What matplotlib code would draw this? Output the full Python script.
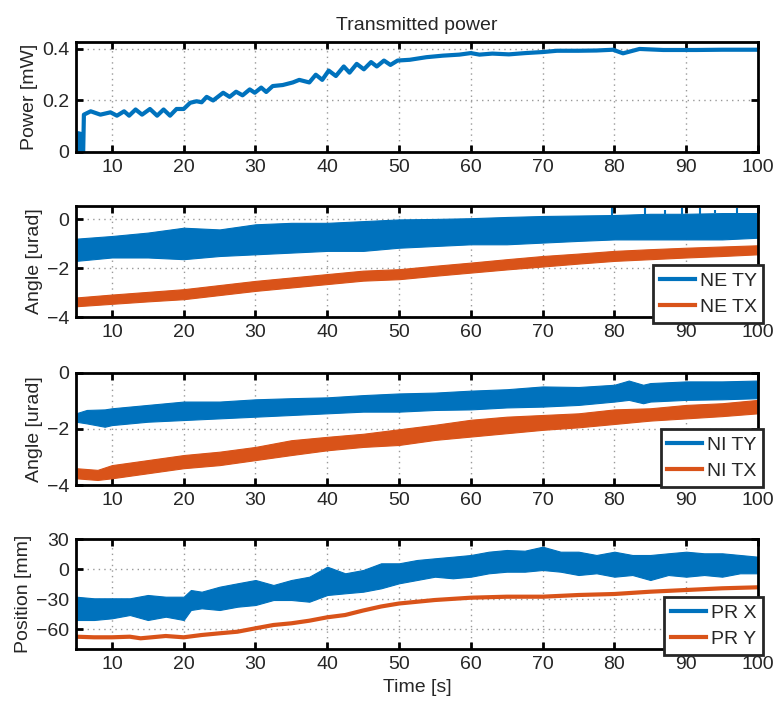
import numpy as np
import matplotlib.pyplot as plt

plt.rcParams['font.family'] = ['Liberation Sans', 'DejaVu Sans']

BLUE = '#0072BD'
ORANGE = '#D95319'
TXT = '#262626'
FS = 14

# transmitted power trace [mW]
power_t = [5.0, 5.2, 5.3, 5.7, 5.8, 6.0, 6.1, 7.05, 8.4, 9.8, 10.7, 11.7, 12.4, 13.3, 14.2,
           15.3, 16.3, 17.2, 18.1, 19.0, 20.0, 20.9, 21.8, 22.5, 23.2, 24.1, 25.5, 26.4,
           27.3, 28.2, 29.2, 29.9, 30.8, 31.5, 32.4, 33.8, 35.2, 36.1, 37.5, 38.4, 39.3,
           40.2, 41.2, 42.3, 43.1, 44.1, 45.1, 46.1, 46.9, 47.9, 48.8, 49.8, 51.5, 53.8,
           56.1, 58.4, 60.0, 61.2, 63.0, 65.3, 67.6, 70.0, 72.0, 75.0, 77.5, 79.8, 81.2,
           83.5, 86.8, 91.4, 95.0, 100.0]
power_mw = [0.0, 0.0, 0.073, 0.07, 0.0, 0.0, 0.145, 0.158, 0.145, 0.154, 0.141, 0.158, 0.141,
            0.165, 0.145, 0.167, 0.141, 0.165, 0.141, 0.167, 0.167, 0.191, 0.197, 0.193, 0.214,
            0.2, 0.23, 0.214, 0.234, 0.22, 0.243, 0.23, 0.25, 0.233, 0.256, 0.26, 0.27, 0.28,
            0.27, 0.3, 0.28, 0.316, 0.295, 0.332, 0.308, 0.342, 0.321, 0.349, 0.332, 0.355,
            0.338, 0.355, 0.358, 0.368, 0.374, 0.378, 0.384, 0.378, 0.382, 0.379, 0.384,
            0.388, 0.393, 0.393, 0.394, 0.397, 0.383, 0.4, 0.396, 0.396, 0.397, 0.397]

# NE angles, band envelopes [urad]
ne_t = [5, 10, 15, 20, 25, 30, 35, 40, 45, 50, 55, 60, 65, 70, 75, 80, 85, 90, 95, 100]
ne_ty_hi = [-0.79, -0.68, -0.54, -0.34, -0.41, -0.2, -0.14, -0.14, -0.07, 0.0, 0.02, 0.05,
            0.1, 0.14, 0.16, 0.18, 0.23, 0.23, 0.26, 0.26]
ne_ty_lo = [-1.7, -1.56, -1.56, -1.63, -1.5, -1.43, -1.36, -1.29, -1.29, -1.16, -1.09, -1.02,
            -1.02, -0.95, -0.88, -0.82, -0.82, -0.82, -0.82, -0.75]
ne_tx_hi = [-3.2, -3.08, -2.97, -2.86, -2.69, -2.52, -2.38, -2.24, -2.1, -2.04, -1.9, -1.77,
            -1.63, -1.5, -1.4, -1.29, -1.22, -1.16, -1.11, -1.06]
ne_tx_lo = [-3.56, -3.46, -3.36, -3.27, -3.1, -2.93, -2.79, -2.65, -2.51, -2.45, -2.31, -2.18,
            -2.05, -1.93, -1.81, -1.7, -1.63, -1.56, -1.5, -1.43]
ne_spike_t = [79.6, 84.3, 87.1, 89.4, 91.9, 94.0, 97.1]
ne_spike_top = [0.51, 0.47, 0.4, 0.47, 0.47, 0.38, 0.47]

# NI angles, band envelopes [urad]
ni_t = [5, 6.5, 9, 10, 15, 20, 25, 30, 35, 40, 45, 50, 55, 60, 65, 70, 75, 80, 82, 84, 85,
        90, 95, 100]
ni_ty_hi = [-1.44, -1.32, -1.3, -1.26, -1.14, -1.02, -1.02, -0.94, -0.9, -0.87, -0.79, -0.73,
            -0.7, -0.63, -0.58, -0.48, -0.5, -0.42, -0.27, -0.42, -0.36, -0.3, -0.3, -0.27]
ni_ty_lo = [-1.74, -1.8, -1.92, -1.86, -1.74, -1.68, -1.62, -1.56, -1.5, -1.44, -1.38, -1.38,
            -1.32, -1.3, -1.23, -1.2, -1.14, -1.02, -0.96, -1.08, -1.02, -0.96, -0.94, -0.9]
ni_tx_t = [5, 8, 10, 15, 20, 25, 30, 35, 40, 45, 50, 55, 60, 65, 70, 75, 80, 85, 90, 95, 100]
ni_tx_hi = [-3.4, -3.46, -3.29, -3.11, -2.93, -2.81, -2.64, -2.4, -2.28, -2.17, -2.01, -1.85,
            -1.67, -1.56, -1.5, -1.44, -1.3, -1.26, -1.14, -1.08, -0.96]
ni_tx_lo = [-3.76, -3.82, -3.76, -3.58, -3.4, -3.29, -3.11, -2.93, -2.76, -2.64, -2.57, -2.39,
            -2.27, -2.15, -2.03, -1.94, -1.82, -1.7, -1.62, -1.54, -1.44]

# PR positions [mm]
pr_t = [5, 7.5, 10, 12.5, 15, 17.5, 20, 21, 22.5, 25, 27.5, 30, 32.5, 35, 37.5, 40, 42.5, 45,
        47.5, 50, 52.5, 55, 57.5, 60, 62.5, 65, 67.5, 70, 72.5, 75, 77.5, 80, 82.5, 85, 87.5,
        90, 92.5, 95, 97.5, 100]
pr_x_hi = [-27.7, -29.3, -29.3, -29.3, -26, -27.7, -27.7, -21, -22.7, -17.7, -14.3, -11, -16,
           -11, -7.7, 2.3, -4.3, -1, 5.7, 5.7, 9, 10.7, 12.3, 14, 17.3, 19, 18.3, 22.3, 17.3,
           17.3, 14, 17.3, 14, 14, 15.7, 17.3, 15.7, 15.7, 14, 12.3]
pr_x_lo = [-51, -51, -49.3, -46, -51, -47.7, -51, -41, -39.3, -41, -37.7, -36, -31, -31,
           -32.7, -26, -24.3, -22.7, -19.3, -14.3, -11, -7.7, -9.3, -7.7, -4.3, -2.7, -2.7,
           -1, -2.7, -6, -4.3, -7.7, -6, -11, -6, -7.7, -6, -7.7, -4.3, -4.3]
pr_y_t = [5, 7.5, 10, 12.5, 14, 17.5, 20, 22.5, 25, 27.5, 30, 32.5, 35, 37.5, 40, 42.5, 45,
          47.5, 50, 55, 60, 65, 70, 75, 80, 85, 90, 95, 100]
pr_y = [-67.7, -68.3, -68.3, -67.7, -69.3, -67, -68.3, -66, -64.3, -62.7, -59.3, -56, -54.3,
        -51.7, -48.3, -46, -41.5, -37.5, -34.5, -31, -28.7, -27.7, -27.7, -26, -25, -22.7,
        -21, -19.3, -18.3]

fig = plt.figure(figsize=(7.76, 7.02), dpi=100)
left, width = 76 / 776, 682 / 776
boxes = [(152, 110), (317, 111), (485, 112), (649, 110)]
axes = [fig.add_axes([left, 1 - b / 702, width, h / 702]) for b, h in boxes]


def style(ax, ylim, yticks, ylabels, ylabel):
    ax.set_xlim(5, 100)
    ax.set_ylim(*ylim)
    ax.set_xticks(np.arange(10, 101, 10))
    ax.set_yticks(yticks)
    ax.set_yticklabels(ylabels)
    ax.grid(True, color='#999999', linestyle=(0, (1, 3)), linewidth=1)
    ax.tick_params(direction='in', length=5, width=2, top=True, right=True,
                   labelsize=FS, labelcolor=TXT, pad=5)
    for s in ax.spines.values():
        s.set_linewidth(2)
    ax.set_ylabel(ylabel, fontsize=FS, color=TXT, labelpad=3)
    ax.set_axisbelow(True)


def band(ax, t, lo, hi, color, label):
    ax.fill_between(t, lo, hi, color=color, linewidth=0.8, edgecolor=color)
    ax.plot([], [], color=color, lw=3, label=label)


def legend(ax, yoff):
    lg = ax.legend(loc='lower right', bbox_to_anchor=(1.008, yoff), fontsize=FS,
                   handlelength=1.8, handletextpad=0.25, borderpad=0.35, labelspacing=0.45,
                   fancybox=False, framealpha=1, borderaxespad=0)
    lg.get_frame().set_edgecolor('#262626')
    lg.get_frame().set_linewidth(2)
    for txt in lg.get_texts():
        txt.set_color(TXT)


ax = axes[0]
ax.plot(power_t, power_mw, color=BLUE, lw=3)
style(ax, (0, 0.427), [0, 0.2, 0.4], ['0', '0.2', '0.4'], 'Power [mW]')
ax.set_title('Transmitted power', fontsize=FS, color=TXT, pad=9)

ax = axes[1]
band(ax, ne_t, ne_ty_lo, ne_ty_hi, BLUE, 'NE TY')
ax.vlines(ne_spike_t, np.interp(ne_spike_t, ne_t, ne_ty_hi), ne_spike_top, color=BLUE, lw=1.5)
band(ax, ne_t, ne_tx_lo, ne_tx_hi, ORANGE, 'NE TX')
style(ax, (-4, 0.55), [-4, -2, 0], ['\u22124', '\u22122', '0'], 'Angle [urad]')
legend(ax, -0.054)

ax = axes[2]
band(ax, ni_t, ni_ty_lo, ni_ty_hi, BLUE, 'NI TY')
band(ax, ni_tx_t, ni_tx_lo, ni_tx_hi, ORANGE, 'NI TX')
style(ax, (-4, 0), [-4, -2, 0], ['\u22124', '\u22122', '0'], 'Angle [urad]')
legend(ax, -0.018)

ax = axes[3]
band(ax, pr_t, pr_x_lo, pr_x_hi, BLUE, 'PR X')
ax.plot(pr_y_t, pr_y, color=ORANGE, lw=3, label='PR Y')
style(ax, (-80, 30), [-60, -30, 0, 30], ['\u221260', '\u221230', '0', '30'], 'Position [mm]')
ax.set_xlabel('Time [s]', fontsize=FS, color=TXT, labelpad=4)
legend(ax, -0.055)

fig.savefig('out.png', dpi=100)
